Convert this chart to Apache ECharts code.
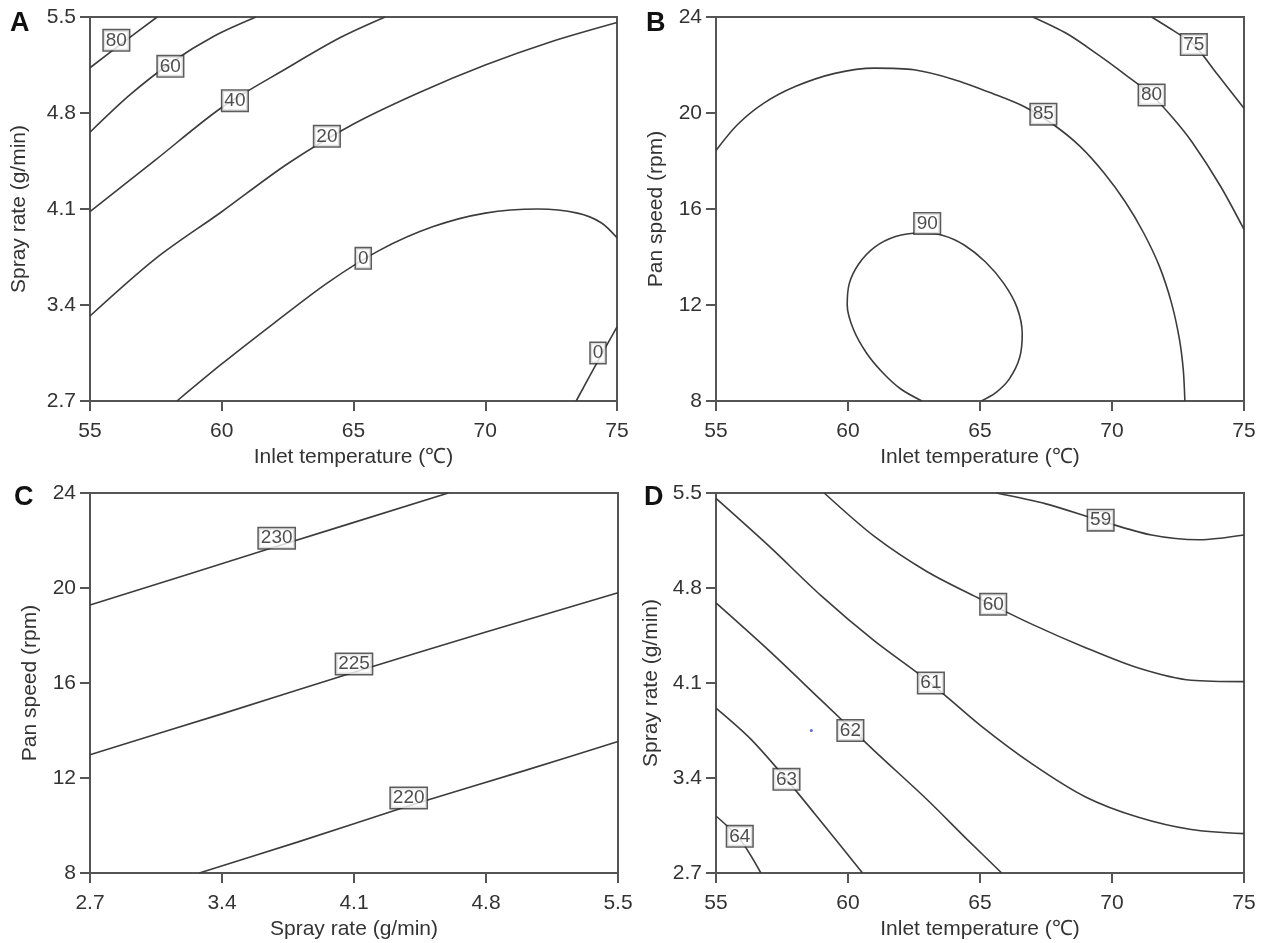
<!DOCTYPE html>
<html>
<head>
<meta charset="utf-8">
<script src="https://cdn.jsdelivr.net/npm/echarts@6/dist/echarts.min.js"></script>
<style>
html,body{margin:0;padding:0;background:#fff;}
#main{width:1268px;height:943px;}
</style>
</head>
<body>
<div id="main"></div>
<script>
// tick labels
const tempTicks = [55, 60, 65, 70, 75];
const sprayTicks = [2.7, 3.4, 4.1, 4.8, 5.5];
const panTicks = [8, 12, 16, 20, 24];

// A: inlet temperature (x) vs spray rate (y)
const contoursA = [
  [[55,5.13],[56.3,5.32],[57.55,5.5]],
  [[55,4.66],[56.5,4.93],[58.1,5.17],[59.7,5.36],[61.3,5.5]],
  [[55,4.08],[57.5,4.46],[60,4.84],[62.5,5.13],[64.5,5.35],[66.2,5.5]],
  [[55,3.32],[57.5,3.74],[60,4.08],[62.5,4.43],[65,4.72],[67.5,4.95],[70,5.15],[72.5,5.32],[75,5.46]],
  [[58.3,2.7],[60,2.97],[62,3.27],[64,3.56],[66,3.8],[68,3.97],[70,4.07],[72,4.1],[73.5,4.07],[74.4,4.0],[75,3.89]],
  [[73.45,2.7],[74.3,3.0],[75,3.24]]
];
const labelsA = [[56.0,5.33,'80'],[58.05,5.14,'60'],[60.5,4.89,'40'],[63.99,4.63,'20'],[65.37,3.74,'0'],[74.28,3.05,'0']];

// B: inlet temperature (x) vs pan speed (y)
const contoursB = [
  [[62.8,8],[62.0,8.5],[61.3,9.2],[60.7,10.0],[60.2,11.0],[59.97,12.0],[60.05,12.9],[60.4,13.7],[61.0,14.4],[61.8,14.85],[62.7,15.0],[63.6,14.9],[64.4,14.5],[65.2,13.8],[65.9,12.9],[66.4,11.9],[66.6,10.8],[66.5,9.8],[66.1,8.9],[65.6,8.35],[65.05,8]],
  [[55,18.44],[55.8,19.5],[56.8,20.4],[58,21.1],[59.5,21.65],[61,21.87],[62.5,21.8],[64,21.4],[65.5,20.8],[66.7,20.25],[67.8,19.5],[68.8,18.6],[69.7,17.5],[70.5,16.3],[71.2,15.0],[71.8,13.6],[72.25,12.1],[72.55,10.6],[72.7,9.3],[72.76,8]],
  [[67.0,24],[68.3,23.3],[69.47,22.43],[70.5,21.6],[71.5,20.75],[72.3,19.8],[73.03,18.79],[74.1,16.97],[75,15.15]],
  [[71.5,24],[72.3,23.45],[73.1,22.85],[74.0,21.6],[75,20.2]]
];
const labelsB = [[63.0,15.4,'90'],[67.4,19.95,'85'],[71.5,20.75,'80'],[73.1,22.85,'75']];

// C: spray rate (x) vs pan speed (y)
const contoursC = [
  [[2.7,19.28],[3.65,21.65],[4.6,24]],
  [[2.7,12.98],[3.4,14.7],[4.1,16.45],[4.8,18.15],[5.5,19.8]],
  [[3.28,8],[3.8,9.3],[4.4,10.85],[5.0,12.3],[5.5,13.54]]
];
const labelsC = [[3.69,22.1,'230'],[4.1,16.8,'225'],[4.39,11.16,'220']];

// D: inlet temperature (x) vs spray rate (y)
const contoursD = [
  [[55,3.12],[55.9,2.95],[56.7,2.7]],
  [[55,3.915],[56.3,3.69],[57.67,3.39],[59.1,3.05],[60.55,2.7]],
  [[55,4.69],[57,4.34],[59,3.97],[61,3.6],[63,3.24],[64.5,2.95],[65.82,2.7]],
  [[55,5.46],[57,5.11],[59,4.74],[61,4.41],[63,4.12],[65,3.79],[67,3.5],[69,3.26],[71,3.11],[73,3.02],[75,2.99]],
  [[59.1,5.5],[61,5.18],[63,4.92],[65,4.72],[67,4.53],[69,4.36],[71,4.21],[73,4.12],[75,4.11]],
  [[65.62,5.5],[67.5,5.42],[69.5,5.3],[71.5,5.19],[73.3,5.155],[75,5.19]]
];
const labelsD = [[69.57,5.3,'59'],[65.5,4.68,'60'],[63.14,4.1,'61'],[60.09,3.75,'62'],[57.67,3.39,'63'],[55.9,2.97,'64']];
const pointD = [[58.61,3.75]];

const font = 'Liberation Sans';
const grids = [
  {left: 90, top: 17, width: 527, height: 384},
  {left: 716, top: 17, width: 528, height: 384},
  {left: 90, top: 493, width: 528, height: 380},
  {left: 716, top: 493, width: 528, height: 380}
];

function xAxis(i, name, ticks) {
  return {
    type: 'value', gridIndex: i, min: ticks[0], max: ticks[ticks.length - 1],
    name: name, nameLocation: 'middle', nameGap: 46,
    nameTextStyle: {color: '#333', fontSize: 21, fontFamily: font},
    axisLine: {onZero: false, lineStyle: {color: '#555', width: 2}},
    axisTick: {customValues: ticks, length: 10, lineStyle: {color: '#555', width: 2}},
    axisLabel: {customValues: ticks, margin: 20, color: '#333', fontSize: 21, fontFamily: font},
    splitLine: {show: false}
  };
}
function yAxis(i, name, ticks, gap) {
  return {
    type: 'value', gridIndex: i, min: ticks[0], max: ticks[ticks.length - 1],
    name: name, nameLocation: 'middle', nameGap: gap,
    nameTextStyle: {color: '#333', fontSize: 21, fontFamily: font},
    axisLine: {onZero: false, lineStyle: {color: '#555', width: 2}},
    axisTick: {customValues: ticks, length: 10, lineStyle: {color: '#555', width: 2}},
    axisLabel: {customValues: ticks, margin: 14, color: '#333', fontSize: 21, fontFamily: font},
    splitLine: {show: false}
  };
}

const series = [];
function addPanel(i, lines, labels) {
  lines.forEach(function (d) {
    series.push({
      type: 'line', xAxisIndex: i, yAxisIndex: i, data: d, smooth: 0.3,
      showSymbol: false, silent: true, z: 2,
      lineStyle: {color: '#3c3c3c', width: 1.6}
    });
  });
  series.push({
    type: 'scatter', xAxisIndex: i, yAxisIndex: i, data: labels,
    symbolSize: 1, itemStyle: {color: 'rgba(0,0,0,0)'}, z: 5, silent: true,
    label: {
      show: true, position: 'inside', formatter: function (p) { return p.value[2]; },
      color: '#222', fontSize: 19, fontFamily: font,
      backgroundColor: '#fff', borderColor: '#333', borderWidth: 1.5, padding: [1, 2, 0, 2]
    }
  });
}
addPanel(0, contoursA, labelsA);
addPanel(1, contoursB, labelsB);
addPanel(2, contoursC, labelsC);
addPanel(3, contoursD, labelsD);
series.push({
  type: 'scatter', xAxisIndex: 3, yAxisIndex: 3, data: pointD,
  symbolSize: 3, itemStyle: {color: '#3b44c8'}, silent: true
});

const chart = echarts.init(document.getElementById('main'));
chart.setOption({
  animation: false,
  backgroundColor: '#fff',
  grid: grids.map(function (g) {
    return Object.assign({show: true, borderColor: '#555', borderWidth: 2, backgroundColor: 'transparent'}, g);
  }),
  xAxis: [
    xAxis(0, 'Inlet temperature (\u2103)', tempTicks),
    xAxis(1, 'Inlet temperature (\u2103)', tempTicks),
    xAxis(2, 'Spray rate (g/min)', sprayTicks),
    xAxis(3, 'Inlet temperature (\u2103)', tempTicks)
  ],
  yAxis: [
    yAxis(0, 'Spray rate (g/min)', sprayTicks, 60),
    yAxis(1, 'Pan speed (rpm)', panTicks, 49),
    yAxis(2, 'Pan speed (rpm)', panTicks, 49),
    yAxis(3, 'Spray rate (g/min)', sprayTicks, 54)
  ],
  graphic: [
    {type: 'text', left: 10, top: 10, style: {text: 'A', font: 'bold 27px Liberation Sans', fill: '#111'}},
    {type: 'text', left: 646, top: 10, style: {text: 'B', font: 'bold 27px Liberation Sans', fill: '#111'}},
    {type: 'text', left: 14, top: 484, style: {text: 'C', font: 'bold 27px Liberation Sans', fill: '#111'}},
    {type: 'text', left: 644, top: 484, style: {text: 'D', font: 'bold 27px Liberation Sans', fill: '#111'}}
  ],
  series: series
});
</script>
</body>
</html>
